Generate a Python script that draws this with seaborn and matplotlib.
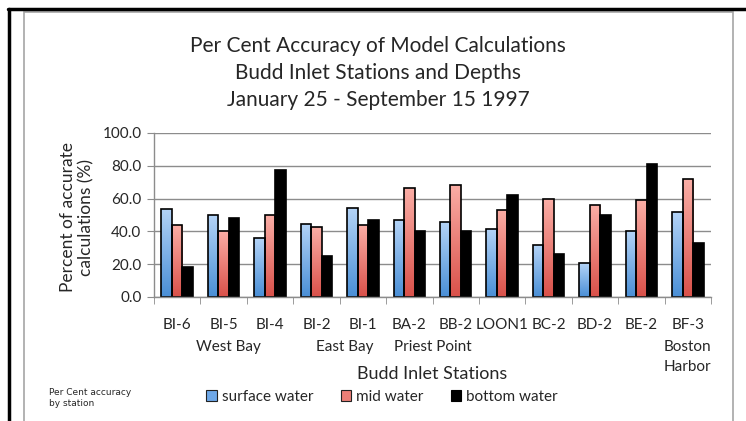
import matplotlib
matplotlib.use('Agg')
import matplotlib.pyplot as plt
import seaborn as sns
import numpy as np
import pandas as pd
from matplotlib.patches import Patch, Rectangle
from matplotlib.lines import Line2D
from matplotlib.colors import LinearSegmentedColormap

# data
stations = ['BI-6', 'BI-5', 'BI-4', 'BI-2', 'BI-1', 'BA-2', 'BB-2', 'LOON1',
            'BC-2', 'BD-2', 'BE-2', 'BF-3']
surface = [53.8, 49.7, 35.8, 44.8, 54.2, 46.8, 45.6, 41.7, 31.5, 20.5, 40.0, 51.7]
mid = [44.0, 40.5, 49.7, 42.7, 44.0, 66.7, 68.5, 53.2, 60.0, 56.3, 59.0, 71.8]
bottom = [18.4, 48.0, 77.3, 25.0, 47.2, 40.3, 40.3, 62.2, 26.0, 50.0, 81.4, 33.0]
depths = ['surface water', 'mid water', 'bottom water']
area_labels = ['West Bay', 'East Bay', 'Priest Point', 'Boston\nHarbor']
area_pos = [1.1, 3.6, 5.5, 11.0]

df = pd.DataFrame({
    'station': stations * 3,
    'depth': [d for d in depths for _ in stations],
    'value': surface + mid + bottom,
})

sns.set_style('white')
plt.rcParams['font.family'] = ['Lato', 'DejaVu Sans']

fig = plt.figure(figsize=(7.46, 4.21), dpi=100)
ax = fig.add_axes([154 / 746, 1 - 297 / 421, 557 / 746, 164 / 421])

palette = {'surface water': '#6ea8e8', 'mid water': '#ec7f77', 'bottom water': '#000000'}
sns.barplot(data=df, x='station', y='value', hue='depth', palette=palette,
            width=0.68, edgecolor='black', linewidth=1.2, ax=ax, legend=False,
            saturation=1)

# gradient fill for surface and mid water bars
cmaps = [LinearSegmentedColormap.from_list('blue', ['#4a8fd6', '#b3d3f7']),
         LinearSegmentedColormap.from_list('red', ['#d9514a', '#fbaea6'])]
grad = np.linspace(0, 1, 100).reshape(-1, 1)
for cont, cmap in zip(ax.containers[:2], cmaps):
    for bar in cont:
        x, w, h = bar.get_x(), bar.get_width(), bar.get_height()
        im = ax.imshow(grad, extent=[x, x + w, 0, h], origin='lower',
                       cmap=cmap, aspect='auto', zorder=bar.get_zorder() - 0.01)
        im.set_clip_path(bar)
        bar.set_facecolor('none')

ax.set_xlim(-0.5, 11.5)
ax.set_ylim(0, 100)
ax.set_yticks([0, 20, 40, 60, 80, 100])
ax.set_yticklabels([f'{v:.1f}' for v in [0, 20, 40, 60, 80, 100]], fontsize=11)
ax.yaxis.grid(True, color='#8c8c8c', linewidth=1)
ax.set_axisbelow(True)
for s in ['top', 'right']:
    ax.spines[s].set_visible(False)
for s in ['left', 'bottom']:
    ax.spines[s].set_color('#8c8c8c')
    ax.spines[s].set_linewidth(1)
ax.tick_params(axis='y', length=5, color='#8c8c8c', direction='out', left=True, pad=4)
ax.tick_params(axis='x', which='major', length=0, labelsize=11, pad=15)
ax.set_xticks(np.arange(-0.5, 12, 1), minor=True)
ax.tick_params(axis='x', which='minor', length=5, color='#8c8c8c', direction='out', bottom=True)

for lab, pos in zip(area_labels, area_pos):
    ax.text(pos, -0.26, lab, transform=ax.get_xaxis_transform(), ha='center',
            va='top', fontsize=11, linespacing=1.55)

ax.set_xlabel('')
ax.set_ylabel('')
fig.text(77 / 746, 1 - 217 / 421, 'Percent of accurate\ncalculations (%)', rotation=90,
         ha='center', va='center', fontsize=12.5, linespacing=1.15)
fig.text(432 / 746, 1 - 374 / 421, 'Budd Inlet Stations', ha='center', va='center',
         fontsize=13)

fig.text(378 / 746, 1 - 73 / 421,
         'Per Cent Accuracy of Model Calculations\nBudd Inlet Stations and Depths\nJanuary 25 - September 15 1997',
         ha='center', va='center', fontsize=15, linespacing=1.45)

fig.text(49 / 746, 1 - 398 / 421, 'Per Cent accuracy\nby station', ha='left', va='center',
         fontsize=6.5, family='DejaVu Sans', linespacing=1.2)

handles = [Patch(facecolor='#6ea8e8', edgecolor='#222222', linewidth=0.8),
           Patch(facecolor='#ec7f77', edgecolor='#222222', linewidth=0.8),
           Patch(facecolor='black', edgecolor='black', linewidth=0.8)]
fig.legend(handles, depths, loc='center', bbox_to_anchor=(382 / 746, 1 - 397 / 421),
           ncol=3, frameon=False, fontsize=11, handlelength=0.7, handleheight=0.7,
           handletextpad=0.3, columnspacing=1.8)

# frame lines around the chart
fig.add_artist(Line2D([8 / 746, 1], [1 - 9 / 421, 1 - 9 / 421], color='black',
                      linewidth=2.5, transform=fig.transFigure))
fig.add_artist(Line2D([9 / 746, 9 / 746], [0, 1 - 9 / 421], color='black',
                      linewidth=2.5, transform=fig.transFigure))
fig.add_artist(Rectangle((24 / 746, -0.05), 709 / 746, 1.05 - 12 / 421, fill=False,
                         edgecolor='#a6a6a6', linewidth=1.2, transform=fig.transFigure))

fig.savefig('out.png', dpi=100, facecolor='white')
